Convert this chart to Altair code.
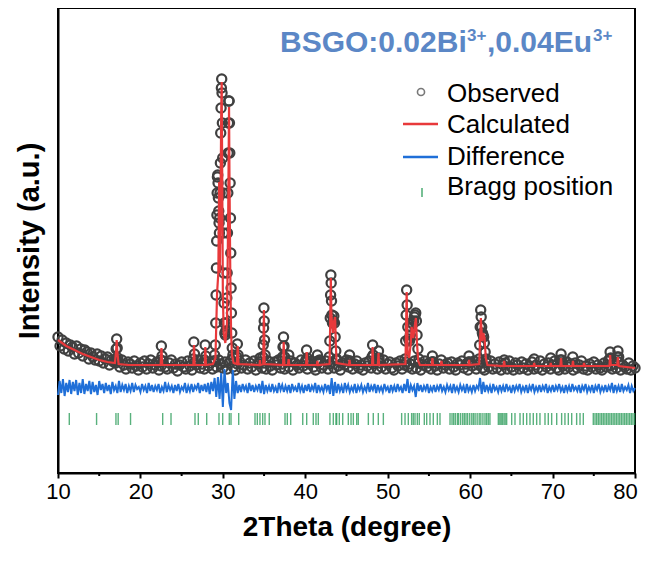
import altair as alt
import pandas as pd

# ---------------- data (intensity in a.u.) ----------------
# observed background scan, 2theta = 10.00 ... 80.00 in steps of 0.25
obs_base = [
    136,127,133,124,130,122,128,126,119,127,
    120,124,117,123,121,114,120,116,113,119,
    112,117,110,114,116,108,113,111,110,112,
    106,113,108,104,111,109,105,112,107,103,
    110,106,112,104,109,113,105,108,111,103,
    107,112,106,104,110,113,105,109,102,108,
    111,106,104,112,107,103,110,108,113,105,
    109,104,111,107,110,104,112,106,113,109,
    105,111,104,110,113,106,103,109,112,105,
    108,113,104,110,106,112,103,109,111,105,
    110,104,112,107,103,111,108,113,105,109,
    104,111,106,112,103,110,108,105,113,107,
    111,104,109,112,106,103,110,113,105,108,
    112,104,109,111,105,113,107,103,110,108,
    113,106,111,104,109,112,105,108,103,110,
    107,112,105,109,111,104,110,106,113,104,
    109,111,105,103,110,107,112,104,108,111,
    106,109,104,112,105,110,103,108,112,106,
    110,104,111,107,103,109,113,105,108,110,
    104,111,106,103,110,108,112,105,109,103,
    110,107,112,104,108,111,105,103,110,106,
    112,104,109,105,111,103,108,110,104,112,
    106,103,110,108,104,111,105,109,103,107,
    111,104,108,105,112,103,109,106,110,104,
    108,112,105,103,110,107,104,111,106,109,
    103,110,105,108,112,104,107,103,109,106,
    111,104,108,105,103,110,106,112,107,104,
    109,105,111,103,108,106,104,110,103,107,
    105,
]
obs_base_x = [10 + 0.25 * i for i in range(len(obs_base))]

# observed points on the Bragg peaks
peak_x = [
    16.98,17.06,17.12,17.18,17.26,
    22.46,22.54,22.62,
    26.40,26.48,26.56,
    27.78,27.85,27.93,
    28.90,29.00,29.08,29.14,29.18,29.22,29.25,29.28,29.31,29.34,29.38,29.42,29.46,29.50,
    29.54,29.58,29.62,29.66,29.70,29.74,29.78,29.82,29.86,29.90,29.94,29.98,30.02,30.06,
    30.10,30.14,30.18,30.24,30.30,30.36,30.42,30.48,30.52,30.56,30.60,30.64,30.68,30.72,
    30.76,30.80,30.84,30.88,30.92,30.96,31.00,31.04,31.08,31.14,31.22,31.30,
    31.68,31.76,31.84,
    34.50,
    34.84,34.90,34.94,34.98,35.02,35.06,35.12,
    37.24,37.30,37.36,37.42,37.50,
    38.00,
    40.08,40.16,40.24,
    41.40,41.47,41.54,
    42.90,42.98,43.03,43.07,43.10,43.14,43.18,43.23,43.30,43.38,43.46,43.54,43.62,43.70,43.80,
    45.30,45.37,45.44,
    48.10,48.17,48.24,
    48.82,48.88,48.95,
    52.10,52.18,52.24,52.30,52.36,52.44,52.54,52.64,52.74,52.84,52.94,53.04,53.14,53.24,
    53.32,53.40,53.48,53.56,53.66,53.80,
    55.34,55.42,55.50,
    59.80,59.86,59.94,
    61.08,61.16,61.22,61.28,61.34,61.40,61.48,61.56,61.64,61.72,61.82,61.94,
    64.13, 67.76, 69.78,
    70.95,71.03,71.10,
    72.45,
    76.90,76.98,77.06,
    77.85,77.93,78.02,
]
peak_y = [
    114,124,134,125,115,
    113,127,117,
    114,131,119,
    113,128,117,
    112,118,128,150,178,205,232,258,280,296,298,290,275,262,
    250,240,255,280,310,340,365,385,394,380,350,315,280,240,
    200,170,150,140,138,142,150,175,200,240,280,320,350,372,
    372,350,320,290,255,220,185,160,140,125,118,115,
    116,129,118,
    115,
    116,128,145,165,152,133,118,
    116,126,136,127,116,
    118,
    113,123,115,
    111,118,112,
    116,132,155,178,198,190,172,158,150,152,157,150,136,122,114,
    112,118,112,
    116,128,118,
    114,122,115,
    114,132,158,183,168,146,134,132,138,146,150,149,152,156,
    158,160,152,138,124,114,
    111,117,111,
    111,117,111,
    114,128,146,163,156,146,140,138,136,130,121,114,
    113, 114, 115,
    113,119,113,
    116,
    114,121,115,
    116,122,116,
]

# calculated profile
calc_x = [
    10.0,11.0,12.0,13.0,14.0,15.0,16.0,16.9,17.05,17.12,17.2,17.35,18.5,
    22.45,22.55,22.65,26.42,26.5,26.58,27.8,27.87,27.95,28.8,29.1,29.3,29.45,29.55,29.62,
    29.7,29.8,29.86,29.92,30.0,30.1,30.3,30.5,30.65,30.75,30.8,30.9,31.0,31.1,31.3,
    31.7,31.8,31.9,34.45,34.5,34.55,34.9,34.98,35.06,37.3,37.38,37.46,37.9,37.98,38.06,
    40.1,40.17,40.25,41.4,41.47,41.54,
    42.95,43.02,43.1,43.16,43.24,43.35,43.5,43.62,43.7,43.8,
    45.3,45.37,45.44,48.1,48.17,48.24,48.8,48.88,48.95,
    52.15,52.3,52.42,52.6,52.8,52.9,53.1,53.3,53.42,53.55,53.7,53.9,
    55.35,55.42,55.5,56.45,56.52,56.6,59.8,59.87,59.94,
    61.1,61.3,61.45,61.6,61.75,61.9,62.1,
    64.05,64.13,64.2,67.7,67.77,67.84,69.7,69.78,69.86,70.95,71.03,71.1,
    72.4,72.47,72.54,73.75,73.82,73.9,76.9,76.98,77.06,77.85,77.93,78.02,80.0,
]
calc_y = [
    133,127,123,119,116,113,111,110,122,133,121,109,108,
    108,125,108,108,128,108,108,126,108,109,115,180,200,291,200,
    250,360,391,300,180,140,130,150,260,366,300,200,140,118,110,
    109,127,109,108,113,108,109,163,109,108,131,108,108,114,108,
    108,121,108,108,112,108,
    109,150,195,160,150,140,152,156,130,110,
    108,113,108,108,126,108,108,120,108,
    109,181,120,115,130,146,135,148,155,130,112,108,
    108,115,108,108,112,108,108,113,108,
    109,155,132,140,135,115,108,
    107,112,107,107,110,107,107,110,107,107,115,107,
    107,112,107,107,110,107,107,118,108,108,116,107,105,
]

# difference curve (offset below the pattern), 2theta = 10.0 ... 80.0 in steps of 0.2
diff_y = [
    78,92,80,94,77,90,81,93,79,91,
    82,93,78,90,80,94,79,89,82,92,
    79,91,81,88,78,92,83,89,80,90,
    82,88,79,91,83,87,80,92,81,88,
    83,89,80,87,82,90,81,88,84,86,
    81,89,83,87,80,90,82,88,81,87,
    83,89,80,86,82,91,81,88,83,87,
    80,88,82,89,81,86,83,90,80,87,
    82,89,81,87,84,90,80,88,82,89,
    81,90,79,91,82,95,76,96,74,100,
    66,104,80,90,70,63,103,74,92,80,
    88,81,89,83,87,80,90,82,88,81,
    87,83,89,80,92,79,88,82,87,81,
    89,82,86,80,90,83,88,81,87,82,
    88,80,89,83,86,81,90,82,87,80,
    88,82,89,81,87,83,90,80,88,82,
    86,81,89,83,88,79,95,77,91,80,
    89,82,87,80,90,83,88,81,86,82,
    89,80,87,83,88,81,86,82,90,81,
    87,83,89,80,88,82,86,81,89,83,
    86,80,88,82,87,81,89,83,86,80,
    89,82,94,80,88,83,87,76,90,82,
    88,81,87,83,89,80,86,82,88,81,
    87,83,89,82,86,81,88,83,87,80,
    89,82,86,81,88,83,87,80,89,82,
    86,81,88,82,87,84,95,79,91,81,
    88,82,87,80,89,83,86,81,88,82,
    87,81,89,83,86,80,88,82,87,83,
    89,81,86,82,88,80,87,83,89,81,
    86,82,88,81,87,83,89,80,86,82,
    88,81,87,83,89,82,86,80,88,82,
    87,81,89,83,86,82,88,80,87,83,
    89,81,86,82,88,80,87,83,89,81,
    86,82,88,81,87,83,90,80,88,82,
    87,81,89,82,86,83,88,80,87,82,
    85,
]
diff_x = [round(10 + 0.2 * i, 2) for i in range(len(diff_y))]

# Bragg reflection positions
bragg = [
    11.37,14.68,17.03,17.30,18.80,22.70,23.71,26.62,27.02,28.04,29.53,29.98,30.78,30.99,31.92,
    33.90,34.18,34.50,34.83,35.11,35.63,37.54,37.82,38.23,39.69,40.17,40.97,41.30,41.58,
    42.99,43.40,43.72,43.81,44.13,44.54,45.22,45.55,45.83,46.24,46.43,47.65,48.25,48.86,49.47,
    51.69,52.10,52.50,52.90,53.10,53.31,53.59,53.83,54.44,54.73,55.13,55.53,56.02,56.34,
    57.56,57.80,58.00,58.20,58.45,58.60,58.85,59.10,59.30,59.50,59.70,59.95,60.20,60.40,
    60.60,60.85,61.10,61.30,61.55,61.80,62.00,62.20,62.40,
    63.42,63.60,63.75,63.90,64.10,64.25,64.43,65.04,65.44,66.05,66.45,66.86,67.26,67.66,
    68.07,68.47,69.08,69.48,69.89,70.50,71.10,71.50,71.91,72.32,72.92,73.33,73.73,
    74.94,75.15,75.35,75.55,75.75,75.95,76.15,76.35,76.55,76.75,76.95,77.15,77.35,77.55,
    77.75,77.95,78.15,78.35,78.55,78.75,78.95,79.15,79.35,79.55,79.75,79.95,
]

x_ticks = [10, 20, 30, 40, 50, 60, 70, 80]
x_minor = [15, 25, 35, 45, 55, 65, 75]
legend_labels = ["Observed", "Calculated", "Difference", "Bragg position"]
title_parts = ["BSGO:0.02Bi", "3+", ",0.04Eu", "3+"]

# ---------------- chart ----------------
W, H = 577, 465
FONT = "Liberation Sans"
GRAY, RED, BLUE, GREEN, TBLUE = "#404040", "#e8393b", "#1f6fd8", "#2f9e5c", "#5b87c6"

xscale = alt.Scale(domain=[10, 80], nice=False, zero=False)
yscale = alt.Scale(domain=[0, 465], nice=False, zero=False)

xaxis = alt.Axis(values=x_ticks, tickSize=5, tickWidth=2, tickColor="black",
                 domainWidth=2, domainColor="black", grid=False,
                 labelFont=FONT, labelFontSize=22, labelColor="black", labelPadding=3,
                 labelFlush=False,
                 labelOffset={"condition": {"test": "datum.value === 80", "value": -10}, "value": 0},
                 title="2Theta (degree)", titleFont=FONT, titleFontSize=28,
                 titleFontWeight="bold", titleColor="black", titlePadding=11)
yaxis = alt.Axis(labels=False, ticks=False, grid=False, domainWidth=2, domainColor="black",
                 title="Intensity (a.u.)", titleFont=FONT, titleFontSize=29,
                 titleFontWeight="bold", titleColor="black", titlePadding=14)

obs_df = pd.DataFrame({"x": obs_base_x + peak_x, "y": obs_base + peak_y})
calc_df = pd.DataFrame({"x": calc_x, "y": calc_y})
diff_df = pd.DataFrame({"x": diff_x, "y": diff_y})
bragg_df = pd.DataFrame({"x": bragg})
minor_df = pd.DataFrame({"x": x_minor})

obs = alt.Chart(obs_df).mark_point(shape="circle", filled=False, size=85, color=GRAY,
                                   strokeWidth=2.2, opacity=1).encode(
    x=alt.X("x:Q", scale=xscale, axis=xaxis),
    y=alt.Y("y:Q", scale=yscale, axis=yaxis),
)
calc = alt.Chart(calc_df).mark_line(color=RED, strokeWidth=2.2).encode(
    x=alt.X("x:Q", scale=xscale), y=alt.Y("y:Q", scale=yscale))
diff = alt.Chart(diff_df).mark_line(color=BLUE, strokeWidth=2).encode(
    x=alt.X("x:Q", scale=xscale), y=alt.Y("y:Q", scale=yscale))
ticks = alt.Chart(bragg_df).mark_rule(color=GREEN, strokeWidth=1.4, opacity=0.8).encode(
    x=alt.X("x:Q", scale=xscale), y=alt.datum(60), y2=alt.datum(48))
minor = alt.Chart(minor_df).mark_rule(color="black", strokeWidth=2).encode(
    x=alt.X("x:Q", scale=xscale), y=alt.value(H), y2=alt.value(H + 3))

# legend (drawn inside the plot)
def label(txt, x, y, size=26, weight="normal", color="black"):
    return alt.Chart(pd.DataFrame({"t": [txt]})).mark_text(
        align="left", baseline="alphabetic", font=FONT, fontSize=size,
        fontWeight=weight, color=color).encode(
        x=alt.value(x), y=alt.value(y), text="t:N")

one = pd.DataFrame({"a": [0]})
leg_circle = alt.Chart(one).mark_point(shape="circle", filled=False, size=50, color=GRAY,
                                       strokeWidth=1.6).encode(x=alt.value(363), y=alt.value(84))
leg_red = alt.Chart(one).mark_rule(color=RED, strokeWidth=2.5).encode(
    x=alt.value(345), x2=alt.value(380), y=alt.value(116))
leg_blue = alt.Chart(one).mark_rule(color=BLUE, strokeWidth=2.5).encode(
    x=alt.value(345), x2=alt.value(380), y=alt.value(149))
leg_tick = alt.Chart(one).mark_rule(color=GREEN, strokeWidth=1.3).encode(
    x=alt.value(364), y=alt.value(180), y2=alt.value(189))

legend = [
    leg_circle, leg_red, leg_blue, leg_tick,
    label(legend_labels[0], 389, 94),
    label(legend_labels[1], 389, 125),
    label(legend_labels[2], 389, 157),
    label(legend_labels[3], 389, 187),
]
title = [
    label(title_parts[0], 222, 44, 30, "bold", TBLUE),
    label(title_parts[1], 409, 33, 17, "bold", TBLUE),
    label(title_parts[2], 429, 44, 30, "bold", TBLUE),
    label(title_parts[3], 535, 33, 17, "bold", TBLUE),
]

chart = alt.layer(obs, calc, diff, ticks, minor, *legend, *title).properties(
    width=W, height=H,
    autosize=alt.AutoSizeParams(type="none"),
    padding={"left": 50, "top": 0, "right": 6, "bottom": 82},
).configure_view(stroke="black", strokeWidth=2)

chart.save("out.html", embed_options={"renderer": "svg", "actions": False})
